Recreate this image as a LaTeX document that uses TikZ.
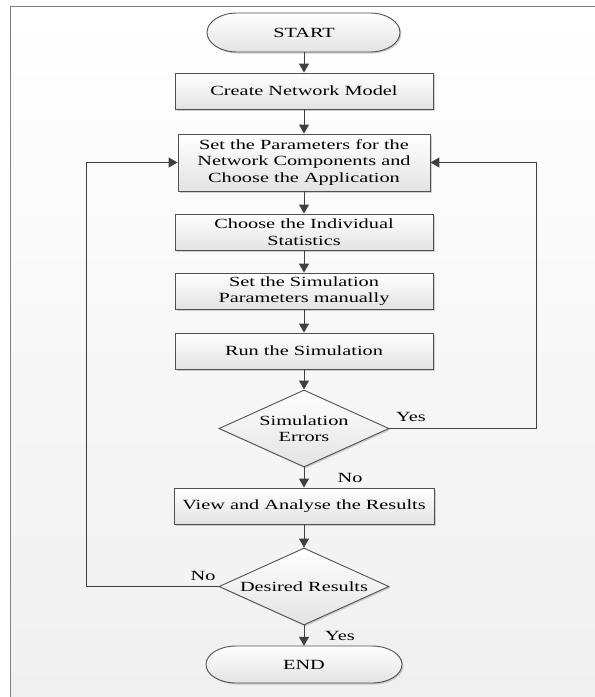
\documentclass[tikz,border=0pt]{standalone}
\usepackage{fontspec}
\setmainfont{Liberation Serif}[FakeStretch=1.45]
\usetikzlibrary{shapes.geometric,arrows.meta,shadows,calc}
\definecolor{boxline}{HTML}{505050}
\definecolor{arrcol}{HTML}{404040}
\definecolor{boxbot}{HTML}{E3E3E3}
\definecolor{bgbot}{HTML}{F0F0F0}
\definecolor{framecol}{HTML}{808080}
\tikzset{
  shadowed/.style={drop shadow={shadow xshift=1.5pt, shadow yshift=-1.5pt, fill=black!30, opacity=0.6}},
  procbox/.style={rectangle, draw=boxline, line width=0.9pt, top color=white, bottom color=boxbot,
    shadowed, minimum width=258pt, minimum height=36pt, inner sep=0pt, align=center},
  decbox/.style={diamond, draw=boxline, line width=0.9pt, top color=white, bottom color=boxbot,
    shadowed, minimum width=170pt, minimum height=77pt, inner sep=0pt, aspect=2.2, align=center},
  termpath/.style={draw=boxline, line width=0.9pt, top color=white, bottom color=boxbot, shadowed},
  termnode/.style={rectangle, inner sep=0pt, align=center},
  arr/.style={draw=arrcol, line width=1pt, -{Triangle[length=9pt,width=10pt]}},
  lbl/.style={inner sep=0pt}
}
\begin{document}
\begin{tikzpicture}[x=1pt,y=1pt,font=\fontsize{14}{16.5}\selectfont]
\useasboundingbox (0,0) rectangle (595,-697);
\fill[white] (0,0) rectangle (595,-697);
\shade[top color=white, bottom color=bgbot] (10.5,-6) rectangle (595,-697);
\draw[framecol, line width=0.8pt] (10.5,-697) -- (10.5,-6) -- (595,-6);

% terminals
\path[termpath] (237,-13) -- (370,-13) arc[start angle=90,end angle=-90,x radius=30,y radius=19.5]
  -- (237,-52) arc[start angle=270,end angle=90,x radius=30,y radius=19.5] -- cycle;
\node[termnode, minimum width=193pt, minimum height=39pt] (start) at (304,-32.5) {START};

\path[termpath] (236,-646) -- (372,-646) arc[start angle=90,end angle=-90,x radius=30,y radius=18.5]
  -- (236,-683) arc[start angle=270,end angle=90,x radius=30,y radius=18.5] -- cycle;
\node[termnode, minimum width=196pt, minimum height=37pt] (end) at (304,-664.5) {END};

% process boxes
\node[procbox] (create) at (304,-91) {Create Network Model};
\node[procbox, minimum width=252pt, minimum height=57pt] (param) at (304,-162.5)
  {Set the Parameters for the\\Network Components and\\Choose the Application};
\node[procbox] (stats) at (304,-232) {Choose the Individual\\Statistics};
\node[procbox] (simpar) at (304,-291) {Set the Simulation\\Parameters manually};
\node[procbox] (run) at (304,-351) {Run the Simulation};
\node[decbox] (err) at (304,-428.5) {Simulation\\Errors};
\node[procbox, minimum width=260pt] (view) at (304,-506) {View and Analyse the Results};
\node[decbox] (des) at (304,-586.5) {Desired Results};

% connectors
\draw[arr] (start.south) -- (create.north);
\draw[arr] (create.south) -- (param.north);
\draw[arr] (param.south) -- (stats.north);
\draw[arr] (stats.south) -- (simpar.north);
\draw[arr] (simpar.south) -- (run.north);
\draw[arr] (run.south) -- (err.north);
\draw[arr] (err.south) -- (view.north);
\draw[arr] (view.south) -- (des.north);
\draw[arr] (des.south) -- (end.north);

\coordinate (rr) at (536,-428.5);
\coordinate (ll) at (86,-586.5);
\draw[arr] (err.east) -- (rr) |- (param.east);
\draw[arr] (des.west) -- (ll) |- (param.west);

% labels
\node[lbl] (yes1) at (411,-417) {Yes};
\node[lbl] (no1) at (350,-478) {No};
\node[lbl] (no2) at (203,-576) {No};
\node[lbl] (yes2) at (340,-636) {Yes};
\end{tikzpicture}
\end{document}
